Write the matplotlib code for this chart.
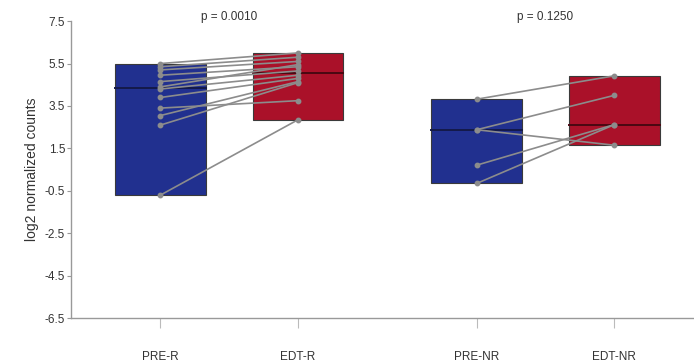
import matplotlib.pyplot as plt

groups = ["PRE-R", "EDT-R", "PRE-NR", "EDT-NR"]
positions = [1, 2, 3.3, 4.3]

# paired values per subject
pre_r = [5.5, 5.35, 5.2, 4.95, 4.65, 4.4, 4.3, 3.9, 3.4, 3.05, 2.6, -0.7]
edt_r = [6.0, 5.8, 5.6, 5.35, 5.15, 5.45, 4.95, 4.8, 3.75, 4.65, 4.6, 2.85]
pre_nr = [3.82, 2.38, 2.38, 0.71, -0.15]
edt_nr = [4.92, 4.0, 1.65, 2.62, 2.62]

p_values = ["p = 0.0010", "p = 0.1250"]

blue = "#21308f"
red = "#aa1129"
grey = "#8c8c8c"

plt.rcParams['font.family'] = ['Liberation Sans Narrow', 'Liberation Sans', 'DejaVu Sans']

fig = plt.figure(figsize=(6.94, 3.64), dpi=100)
ax = fig.add_axes([0.102, 0.126, 0.898, 0.816])

series = [pre_r, edt_r, pre_nr, edt_nr]
colors = [blue, red, blue, red]
med_colors = ["#141a4a", "#4a0812", "#141a4a", "#4a0812"]
for pos, vals, c, mc in zip(positions, series, colors, med_colors):
    lo, hi = min(vals), max(vals)
    s = sorted(vals)
    n = len(s)
    med = s[n // 2] if n % 2 else (s[n // 2 - 1] + s[n // 2]) / 2
    ax.bar(pos, hi - lo, bottom=lo, width=0.66, color=c, edgecolor="#3a3a3a",
           linewidth=0.8, zorder=1)
    ax.plot([pos - 0.33, pos + 0.33], [med, med], color=mc, lw=1.4, zorder=2)

for (a, b), (xa, xb) in [((pre_r, edt_r), (positions[0], positions[1])),
                         ((pre_nr, edt_nr), (positions[2], positions[3]))]:
    for ya, yb in zip(a, b):
        ax.plot([xa, xb], [ya, yb], color=grey, lw=1.2, marker="o", ms=3.2,
                mfc=grey, mec=grey, zorder=3)

ax.text((positions[0] + positions[1]) / 2, 7.68, p_values[0], ha="center",
        va="center", fontsize=8.5, color="#333333", clip_on=False)
ax.text((positions[2] + positions[3]) / 2, 7.68, p_values[1], ha="center",
        va="center", fontsize=8.5, color="#333333", clip_on=False)

ax.set_xlim(0.348, 4.88)
ax.set_ylim(-6.5, 7.5)
ax.set_yticks([7.5, 5.5, 3.5, 1.5, -0.5, -2.5, -4.5, -6.5])
ax.set_yticklabels(["7.5", "5.5", "3.5", "1.5", "-0.5", "-2.5", "-4.5", "-6.5"])
ax.set_xticks(positions)
ax.set_xticklabels(groups)
ax.tick_params(axis="y", length=3, width=0.8, color="#999999", labelsize=8.5,
               labelcolor="#333333", pad=1)
ax.tick_params(axis="x", length=7, width=0.8, color="#bbbbbb", labelsize=8.5,
               labelcolor="#333333", pad=17)
ax.set_ylabel("log2 normalized counts", fontsize=10, color="#333333", labelpad=4)

for side in ["top", "right"]:
    ax.spines[side].set_visible(False)
for side in ["left", "bottom"]:
    ax.spines[side].set_color("#999999")
    ax.spines[side].set_linewidth(1.0)

fig.savefig("out.png", dpi=100)
